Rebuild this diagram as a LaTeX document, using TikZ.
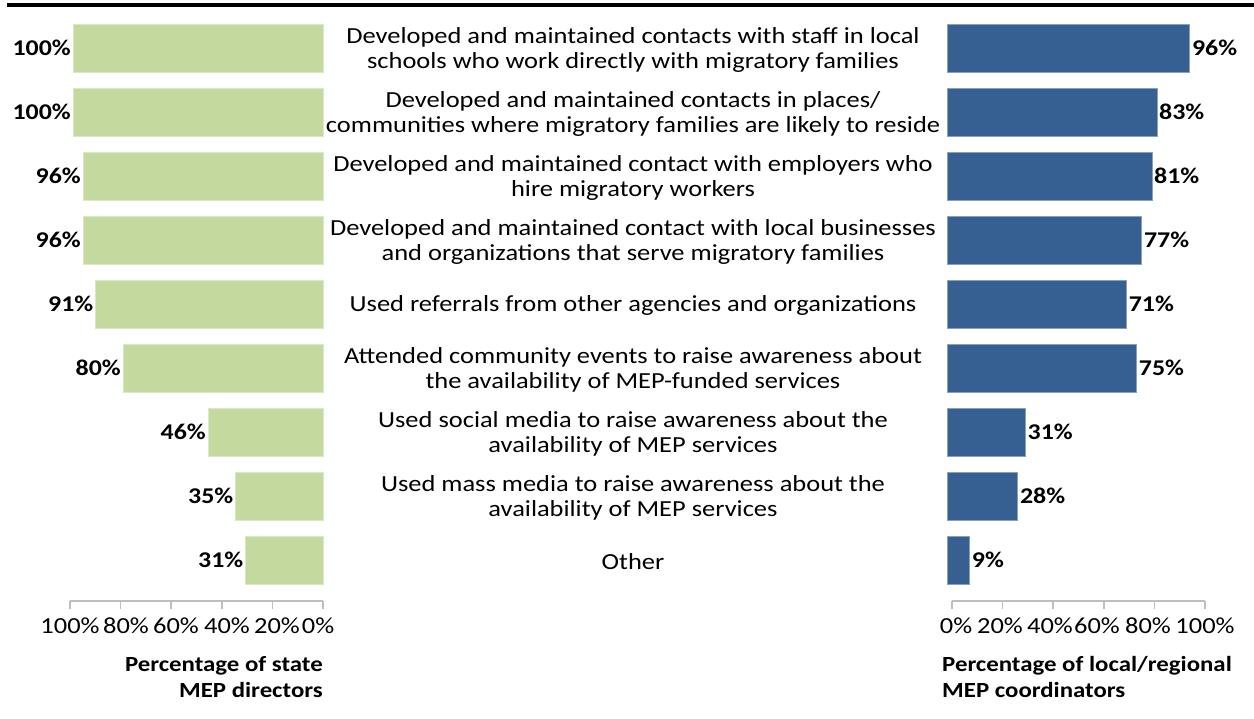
\documentclass[tikz,border=0pt]{standalone}
\usepackage{fontspec}
\setmainfont[FakeStretch=1.15]{Carlito}
\usetikzlibrary{positioning}
\definecolor{stategreen}{RGB}{196,217,158}
\definecolor{localblue}{RGB}{54,96,146}
\definecolor{axisgray}{RGB}{191,191,191}

\begin{document}
\begin{tikzpicture}[
    x = 1pt, y = -1pt,
    item/.style={font=\fontsize{23}{25}\selectfont, align=center},
    value/.style={font=\fontsize{22.5}{25}\selectfont\bfseries, inner sep=2pt},
    ticktext/.style={font=\fontsize{23}{25}\selectfont, inner sep=0pt},
    axistitle/.style={font=\fontsize{21.6}{26}\selectfont\bfseries, inner sep=0pt},
    statebar/.style={fill=stategreen, draw=stategreen!60!white, line width=0.8pt},
    localbar/.style={fill=localblue, draw=localblue!60!white, line width=0.8pt},
    axisline/.style={draw=axisgray, line width=1.5pt}
]
    \useasboundingbox (0,0) rectangle (1254,719);
    \draw[line width=4pt] (7,5.3) -- (1254,5.3);

    % rows: number / state / local / activity
    \foreach \i/\s/\l/\txt in {
        1/100/96/{Developed and maintained contacts with staff in local\\schools who work directly with migratory families},
        2/100/83/{Developed and maintained contacts in places/\\communities where migratory families are likely to reside},
        3/96/81/{Developed and maintained contact with employers who\\hire migratory workers},
        4/96/77/{Developed and maintained contact with local businesses\\and organizations that serve migratory families},
        5/91/71/{Used referrals from other agencies and organizations},
        6/80/75/{Attended community events to raise awareness about\\the availability of MEP-funded services},
        7/46/31/{Used social media to raise awareness about the\\availability of MEP services},
        8/35/28/{Used mass media to raise awareness about the\\availability of MEP services},
        9/31/9/{Other}}
    {
        \pgfmathsetmacro\top{24+64*(\i-1)}
        \draw[statebar] (323-2.5*\s, \top) rectangle (323, \top+48);
        \draw[localbar] (947, \top) rectangle (947+2.53*\l, \top+48);
        \node[value, anchor=east] (s\i) at (323-2.5*\s, \top+24) {\s\%};
        \node[value, anchor=west] (l\i) at (947+2.53*\l, \top+24) {\l\%};
        \node[item] (t\i) at (633, \top+25.5) {\txt};
    }

    % axes
    \draw[axisline] (70,601) -- (323,601);
    \draw[axisline] (952,601) -- (1205,601);
    \foreach \k/\xs/\xl in {0/318/956, 1/277/1000, 2/227/1050, 3/176/1097, 4/126/1148, 5/70/1205} {
        \pgfmathtruncatemacro\pct{20*\k}
        \draw[axisline] (323-50.6*\k, 601) -- ++(0,8);
        \draw[axisline] (952+50.6*\k, 601) -- ++(0,8);
        \node[ticktext] (sx\k) at (\xs, 626) {\pct\%};
        \node[ticktext] (lx\k) at (\xl, 626) {\pct\%};
    }

    \node[axistitle, align=right, anchor=north east] (stitle) at (323,656) {Percentage of state\\MEP directors};
    \node[axistitle, align=left, anchor=north west] (ltitle) at (942,656) {Percentage of local/regional\\MEP coordinators};
\end{tikzpicture}
\end{document}
